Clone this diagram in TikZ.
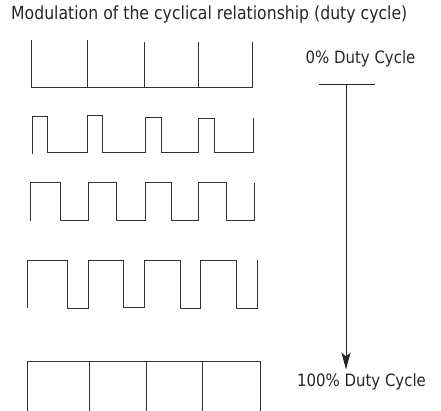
\documentclass[tikz,border=0pt]{standalone}
\usepackage{fontspec}
\setmainfont{DejaVu Sans}
\usetikzlibrary{arrows.meta}
\newcommand{\narrowtxt}[1]{\scalebox{0.88}[1]{#1}}
\begin{document}
\begin{tikzpicture}[x=1pt,y=-1pt,
  wave/.style={draw=black!80, line width=0.9pt, line join=miter},
  lbl/.style={inner sep=0pt, font=\fontsize{17}{20}\selectfont, text=black!85},
  arr/.style={draw=black!85, line width=1pt}]
\useasboundingbox (0,0) rectangle (441,411);
\node[lbl, anchor=west] (title) at (11,15) {\scalebox{1}[1.15]{\resizebox{396pt}{!}{Modulation of the cyclical relationship (duty cycle)}}};
% 0% duty
\draw[wave] (31.5,40) -- (31.5,87.5) -- (252,87.5) -- (252,42);
\draw[wave] (87,40) -- (87,87.5);
\draw[wave] (144,42) -- (144,87.5);
\draw[wave] (198,42) -- (198,87.5);
% low duty
\draw[wave] (32,154) -- (32,116) -- (47,116) -- (47,152.7) -- (87,152.7) -- (87,115.5) -- (102,115.5) -- (102,152.7)
  -- (145,152.7) -- (145,117.5) -- (161,117.5) -- (161,152.7) -- (198,152.7) -- (198,118.5) -- (214,118.5) -- (214,152.7) -- (253,152.7) -- (253,118);
% 50% duty
\draw[wave] (30,221) -- (30,182.7) -- (60,182.7) -- (60,220.7) -- (88,220.7) -- (88,182.7) -- (116,182.7) -- (116,220.7)
  -- (145,220.7) -- (145,182.7) -- (171,182.7) -- (171,220.7) -- (198,220.7) -- (198,182.7) -- (226,182.7) -- (226,220.7) -- (254,220.7) -- (254,182.7);
% high duty
\draw[wave] (27.7,308) -- (27.7,260) -- (67.7,260) -- (67.7,308) -- (88,308) -- (88,260) -- (123.7,260) -- (123.7,307)
  -- (144,307) -- (144,260) -- (180,260) -- (180,308.5) -- (200,308.5) -- (200,260) -- (236,260) -- (236,308) -- (257,308) -- (257,260);
% 100% duty
\draw[wave] (27,411) -- (27,361) -- (260,361) -- (260,411);
\draw[wave] (89,361) -- (89,411);
\draw[wave] (146,361) -- (146,411);
\draw[wave] (202,361) -- (202,411);
% labels and arrow
\node[lbl] (zero) at (360.5,59) {\narrowtxt{0\% Duty Cycle}};
\node[lbl] (full) at (361.5,382) {\narrowtxt{100\% Duty Cycle}};
\coordinate (barL) at (319,84.3);
\coordinate (barR) at (375,84.3);
\coordinate (top) at (346,84.3);
\coordinate (tip) at (346,369.5);
\draw[arr] (barL) -- (barR);
\draw[arr, -{Stealth[length=17pt, width=9pt, inset=4pt]}] (top) -- (tip);
\end{tikzpicture}
\end{document}
